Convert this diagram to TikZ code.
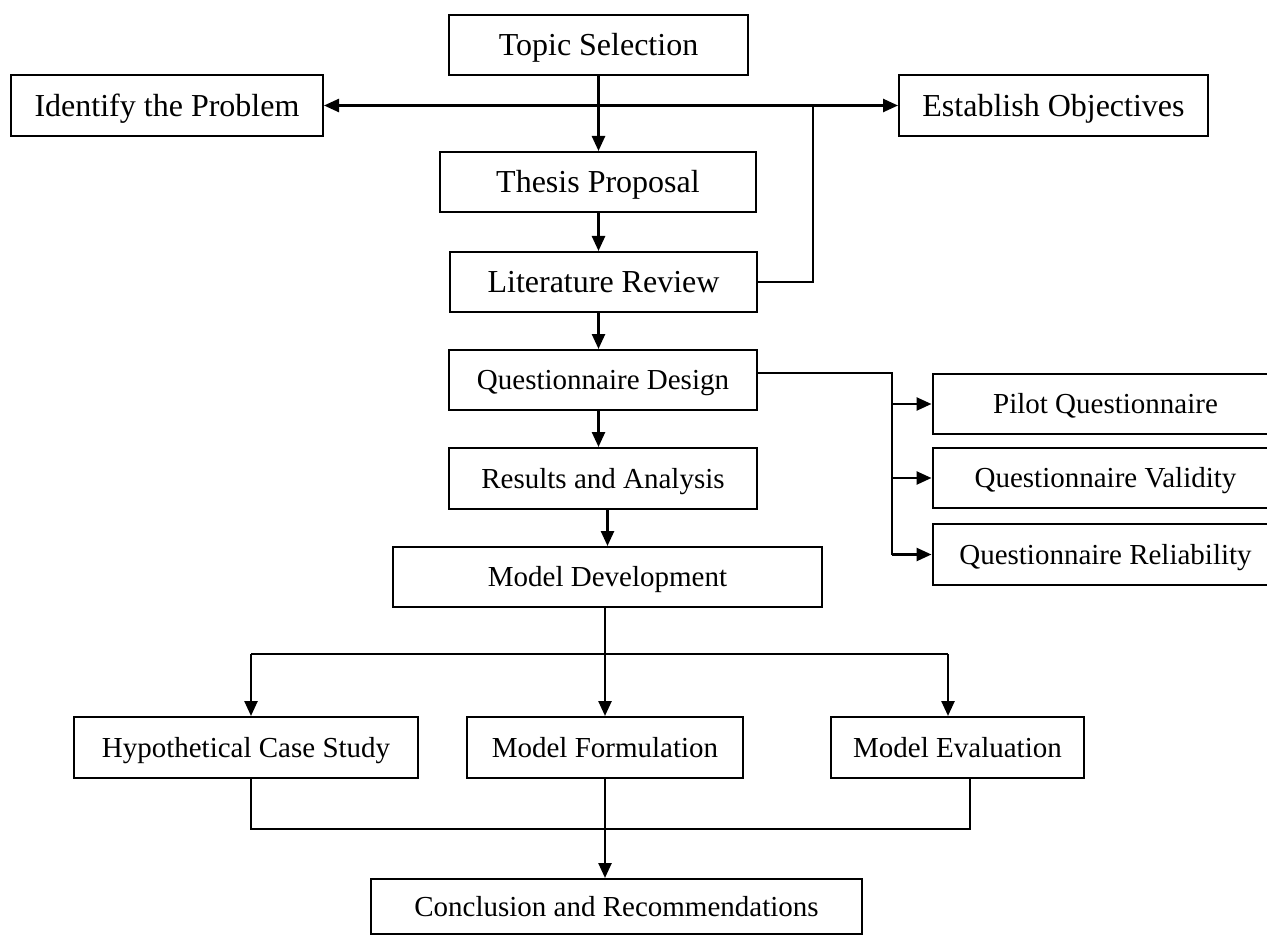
\documentclass[tikz,border=0pt]{standalone}
\usepackage{fontspec}
\setmainfont{Liberation Serif}
\usetikzlibrary{arrows.meta}
\begin{document}
\begin{tikzpicture}[x=1pt,y=-1pt,
  box/.style={draw,line width=2pt,inner sep=0pt,align=center,text height=22pt,text depth=2.8pt,font=\fontsize{29}{32}\selectfont},
  bigbox/.style={box,text height=24pt,text depth=2.8pt,font=\fontsize{32}{36}\selectfont},
  conn/.style={line width=2.5pt},
  arr/.style={conn,-{Triangle[length=15pt,width=13pt]}},
  darr/.style={conn,{Triangle[length=15pt,width=13pt]}-{Triangle[length=15pt,width=13pt]}}]
\clip (0,0) rectangle (1267,936);
% top group
\node[bigbox,minimum width=299pt,minimum height=60pt] (ts) at (598.5,45) {Topic Selection};
\node[bigbox,minimum width=312pt,minimum height=61pt] (ip) at (167,105.5) {Identify the Problem};
\node[bigbox,minimum width=309pt,minimum height=61pt] (eo) at (1053.5,105.5) {Establish Objectives};
\node[bigbox,minimum width=316pt,minimum height=60pt] (tp) at (598,182) {Thesis Proposal};
\node[bigbox,minimum width=307pt,minimum height=60pt] (lr) at (603.5,282) {Literature Review};
% middle
\node[box,minimum width=308pt,minimum height=60pt] (qd) at (603,380) {Questionnaire Design};
\node[box,minimum width=308pt,minimum height=61pt] (ra) at (603,478.5) {Results and Analysis};
\node[box,minimum width=429pt,minimum height=60pt] (md) at (607.5,577) {Model Development};
\node[box,minimum width=345pt,minimum height=60pt] (pq) at (1105.5,404) {Pilot Questionnaire};
\node[box,minimum width=345pt,minimum height=60pt] (qv) at (1105.5,478) {Questionnaire Validity};
\node[box,minimum width=345pt,minimum height=61pt] (qr) at (1105.5,554.5) {Questionnaire Reliability};
% bottom
\node[box,minimum width=344pt,minimum height=61pt] (hc) at (246,747.5) {Hypothetical Case Study};
\node[box,minimum width=276pt,minimum height=61pt] (mf) at (605,747.5) {Model Formulation};
\node[box,minimum width=253pt,minimum height=61pt] (me) at (957.5,747.5) {Model Evaluation};
\node[box,minimum width=491pt,minimum height=55pt] (cr) at (616.5,906.5) {Conclusion and Recommendations};
% connectors top
\draw[arr] (ts.south) -- (ts.south |- tp.north);
\draw[darr] (ip.east) -- (eo.west);
\coordinate (j1) at (813,105.5);
\draw[conn] (lr.east) -| (j1);
\draw[arr] (tp.south -| ts.south) -- (ts.south |- lr.north);
\draw[arr] (lr.south -| ts.south) -- (ts.south |- qd.north);
\draw[arr] (qd.south -| ts.south) -- (ts.south |- ra.north);
\draw[arr] (ra.south -| md.north) -- (md.north);
% questionnaire branch
\coordinate (qb) at (892,373);
\draw[conn] (qd.east |- qb) -- (qb) -- (qb |- qr.west);
\draw[arr] (qb |- pq.west) -- ([xshift=-0.5pt]pq.west);
\draw[arr] (qb |- qv.west) -- ([xshift=-0.5pt]qv.west);
\draw[arr] (qb |- qr.west) -- ([xshift=-0.5pt]qr.west);
% model branch
\coordinate (bl) at (251,654);
\coordinate (br) at (948,654);
\coordinate (bm) at (605,654);
\draw[conn] (md.south -| bm) -- (bm);
\draw[conn] (bl) -- (br);
\draw[arr] (bl) -- (bl |- hc.north);
\draw[arr] (bm) -- (mf.north);
\draw[arr] (br) -- (br |- me.north);
% merge
\coordinate (cl) at (251,829);
\coordinate (cc) at (970,829);
\draw[conn] (cl |- hc.south) -- (cl) -- (cc) -- (cc |- me.south);
\draw[arr] (mf.south) -- (mf.south |- cr.north);
\end{tikzpicture}
\end{document}
